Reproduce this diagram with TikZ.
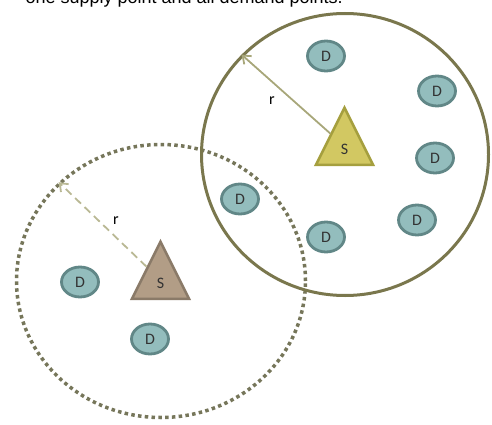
\documentclass[tikz,border=0pt]{standalone}
\usepackage{fontspec}
\setmainfont{Liberation Sans}
\newfontfamily\labelfont{Carlito}
\usetikzlibrary{shapes.geometric, arrows.meta}

\definecolor{ringolive}{HTML}{7A774D}
\definecolor{dotolive}{HTML}{76765A}
\definecolor{radlight}{HTML}{A8A77A}
\definecolor{radpale}{HTML}{B9B894}
\definecolor{demfill}{HTML}{93BDBD}
\definecolor{demline}{HTML}{618787}
\definecolor{supyellow}{HTML}{D2C862}
\definecolor{supyline}{HTML}{A59F3E}
\definecolor{suptan}{HTML}{B29D86}
\definecolor{suptline}{HTML}{8A7A68}

\begin{document}
\begin{tikzpicture}[
    x=1pt, y=-1pt,
    font=\labelfont\fontsize{16}{18}\selectfont,
    >={Straight Barb[length=7pt,width=11pt]},
    dem/.style    ={ellipse, draw=demline, fill=demfill, line width=2.8pt,
                    minimum width=37pt, minimum height=30pt, inner sep=0pt, text=black!80},
    sup/.style    ={isosceles triangle, isosceles triangle stretches, shape border rotate=90,
                    minimum width=57pt, minimum height=57pt, line width=2.5pt,
                    inner sep=0pt, text height=3.2ex, anchor=lower side, text=black!80},
    ring/.style   ={ellipse, line width=3pt, inner sep=0pt},
    radius/.style ={->, line width=1.8pt},
]
\useasboundingbox (0,0) rectangle (492,425);
\clip (0,0) rectangle (492,425);

% ---- Caption (cut off at the top) ----
\node[anchor=base west, font=\normalfont\fontsize{18}{20}\selectfont] (caption) at (22,4)
   {one supply point and all demand points.};

% ---- Service ranges ----
\node[ring, draw=dotolive, line width=3.5pt, dash pattern=on 3.5pt off 3.3pt,
      minimum width=289pt, minimum height=273pt] (rangeA) at (161,281) {};
\node[ring, draw=ringolive, minimum width=287pt, minimum height=282pt] (rangeB) at (345,154.5) {};

% ---- Demand points ----
\foreach \p [count=\i] in {(80,282), (150,339), (240,199), (326,56), (437,91),
                            (435,158), (417,220), (326,237)} {
   \node[dem] (d\i) at \p {D};
}

% ---- Supply points ----
\node[sup, draw=suptline, fill=suptan]     (supA) at (160.5,300) {S};
\node[sup, draw=supyline, fill=supyellow]  (supB) at (344.5,166) {S};

% ---- Radius arrows ----
\draw[radius, draw=radpale, dash pattern=on 8pt off 5pt] (supA) -- (rangeA.136);
\draw[radius, draw=radlight] (supB) -- (rangeB.136);

\node (rA) at (116,221) {r};
\node (rB) at (272,101) {r};
\end{tikzpicture}
\end{document}
